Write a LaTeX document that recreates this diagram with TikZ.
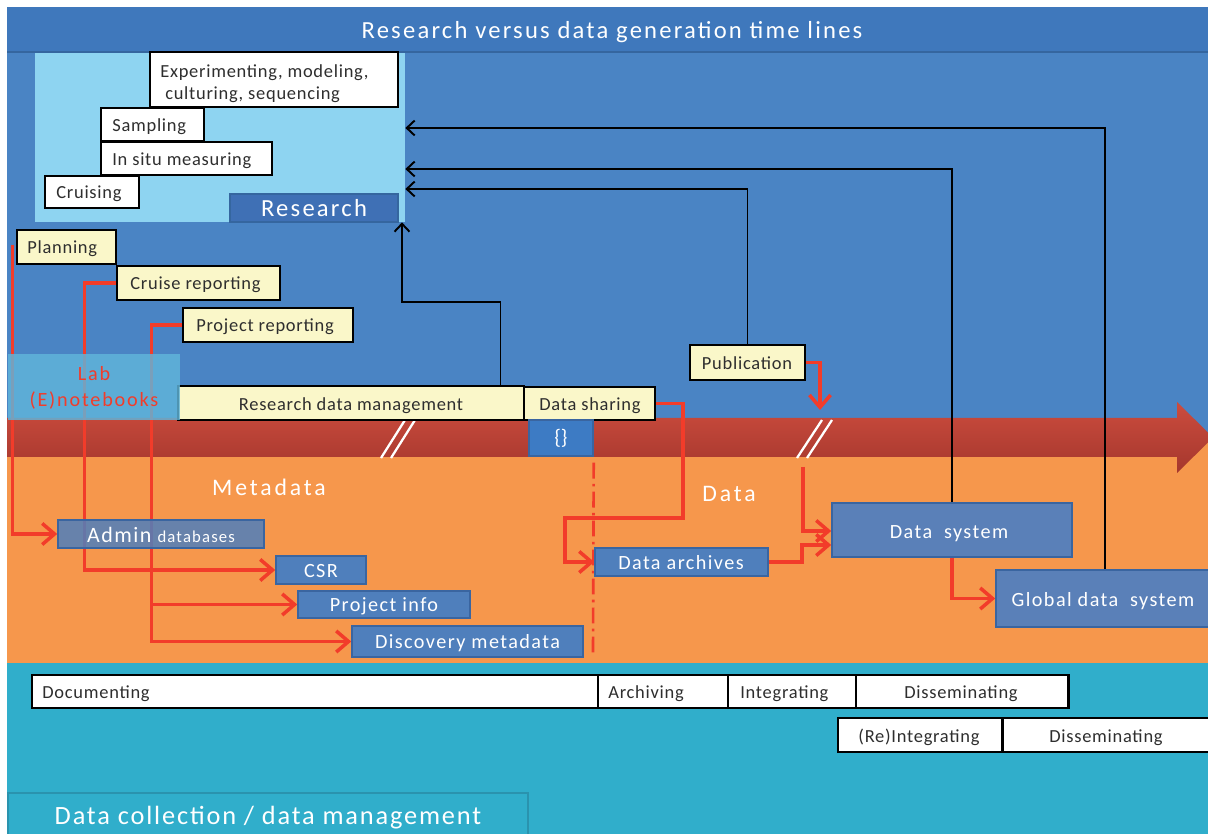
\documentclass[tikz,border=0pt]{standalone}
\usepackage{fontspec}
\setmainfont{Carlito}
\newfontfamily\fy[LetterSpace=4]{Carlito}
\newfontfamily\fb[LetterSpace=7]{Carlito}
\newfontfamily\ft[LetterSpace=9]{Carlito}
\newfontfamily\fm[LetterSpace=12]{Carlito}
\usetikzlibrary{arrows.meta,fit,calc}
\definecolor{bgblue}{HTML}{4A84C4}
\definecolor{titleblue}{HTML}{3F78BC}
\definecolor{titleline}{HTML}{35669F}
\definecolor{ltblue}{HTML}{8ED4F1}
\definecolor{resblue}{HTML}{3F70B5}
\definecolor{ylw}{HTML}{FAF7C9}
\definecolor{orng}{HTML}{F6974C}
\definecolor{tealc}{HTML}{30AECB}
\definecolor{tealdark}{HTML}{2A93AE}
\definecolor{mblue}{HTML}{4F7FBC}
\definecolor{sblue}{HTML}{5A80B8}
\definecolor{mborder}{HTML}{3A65A0}
\definecolor{lred}{HTML}{F23C2A}
\definecolor{arrtop}{HTML}{CC4C3E}
\definecolor{arrbot}{HTML}{A5372D}
\definecolor{txt}{HTML}{2E2E2E}
\definecolor{labblue}{HTML}{60B5DA}
\definecolor{curly}{HTML}{3D7BC4}
\newcommand{\fsz}[2]{\fontsize{#1}{#2}\selectfont}
\pgfdeclarelayer{bg}
\pgfdeclarelayer{mid}
\pgfsetlayers{bg,mid,main}
\tikzset{
  wbox/.style={draw=black, line width=1.7pt, fill=white, inner sep=0pt},
  ybox/.style={draw=black, line width=1.7pt, fill=ylw, inner sep=0pt},
  mbox/.style={draw=mborder, line width=0.9pt, fill=mblue, inner sep=0pt},
  sbox/.style={draw=mborder, line width=0.9pt, fill=sblue, inner sep=0pt},
  ltxt/.style={anchor=mid west, yshift=-1.2pt, text=txt, inner sep=0pt, font={\fy\fsz{10.5}{12.5}}},
  ctxt/.style={anchor=mid, yshift=-1.2pt, text=txt, inner sep=0pt, font={\fy\fsz{10.5}{12.5}}},
  btxt/.style={anchor=mid, yshift=-1.8pt, text=white, inner sep=0pt, font={\fb\fsz{11.5}{13.5}}},
  redl/.style={draw=lred, line width=2pt},
  reda/.style={redl, -{Straight Barb[length=7pt,width=12pt]}},
  blk/.style={draw=black, line width=1.1pt, -{Straight Barb[length=4.5pt,width=8.5pt]}},
  wtxt/.style={anchor=mid, yshift=-2.4pt, text=white, inner sep=0pt},
}
\begin{document}
\begin{tikzpicture}[x=0.02cm,y=-0.02cm]
\useasboundingbox (0,0) rectangle (1208,834);
\begin{pgfonlayer}{bg}
\fill[white] (0,0) rectangle (1208,834);
\fill[bgblue] (7,7) rectangle (1208,440);
\fill[orng] (7,440) rectangle (1208,663);
\fill[tealc] (7,663) rectangle (1208,834);
\fill[titleblue] (7,7) rectangle (1208,52);
\draw[titleline, line width=0.8pt] (7,52) -- (1208,52);
\shade[top color=arrtop, bottom color=arrbot] (7,418) -- (1177,418) -- (1177,402) -- (1213,437.5) -- (1177,473) -- (1177,457) -- (7,457) -- cycle;
\draw[white, line width=1.3pt] (381,458) -- (405,420) (391,458) -- (415,420);
\draw[white, line width=1.3pt] (797,458) -- (822,420) (807,458) -- (832,420);
\end{pgfonlayer}

\node[wtxt, font={\ft\fsz{14}{16}}] (title) at (612,30) {Research versus data generation time lines};

% research block
\node[fit={(35,53)(405,222)}, inner sep=0pt, fill=ltblue] (res) {};
\node[fit={(230,194)(398,222)}, inner sep=0pt, fill=resblue, draw=titleline, line width=0.8pt] (reslab) {};
\node[wtxt, font={\ft\fsz{14}{16}}] (reslabtxt) at (314,208) {Research};
\node[wbox, fit={(150,52)(398,107)}] (exp) {};
\node[ltxt, anchor=north west, yshift=0pt, align=left] (exptxt) at (160,62) {Experimenting, modeling,\\\ culturing, sequencing};
\node[wbox, fit={(101,108)(204,141)}] (samp) {};
\node[ltxt] (samptxt) at (112,125) {Sampling};
\node[wbox, fit={(101,142)(272,175)}] (insitu) {};
\node[ltxt] (insitutxt) at (112,159) {In situ measuring};
\node[wbox, fit={(45,176)(139,208)}] (cruis) {};
\node[ltxt] (cruistxt) at (56,192) {Cruising};

% yellow boxes
\node[ybox, fit={(17,230)(116,264)}] (plan) {};
\node[ltxt] (plantxt) at (27,247) {Planning};
\node[ybox, fit={(117,266)(280,300)}] (cr) {};
\node[ltxt] (crtxt) at (130,283) {Cruise reporting};
\node[ybox, fit={(183,308)(353,342)}] (pr) {};
\node[ltxt] (prtxt) at (196,325) {Project reporting};
\node[ybox, fit={(178,386)(524,420)}] (rdm) {};
\node[ctxt] (rdmtxt) at (351,404) {Research data management};
\node[ybox, fit={(524,387)(655,420)}] (dsh) {};
\node[ctxt] (dshtxt) at (590,404) {Data sharing};
\node[ybox, fit={(690,345)(805,380)}] (pub) {};
\node[ctxt] (pubtxt) at (747,363) {Publication};
\node[fit={(529,420)(593,456)}, inner sep=0pt, fill=curly, draw=mborder, line width=0.8pt] (cur) {};
\node[wtxt, yshift=1pt, font={\fsz{12}{14}}] (curtxt) at (cur.center) {\{\}};

% orange region labels
\node[wtxt, font={\fm\fsz{13.5}{15}}] (meta) at (269,487) {Metadata};
\node[wtxt, font={\fm\fsz{13.5}{15}}] (datal) at (729,493) {Data};

% blue boxes
\node[mbox, fit={(58,520)(264,548)}, fill opacity=0.85] (admin) {};
\node[btxt] (admintxt) at (161,535) {{\fsz{12.5}{14}Admin} {\fsz{9.5}{11}databases}};
\node[mbox, fit={(276,556)(366,584)}] (csr) {};
\node[btxt] (csrtxt) at (csr.center) {CSR};
\node[mbox, fit={(298,591)(470,618)}] (pinfo) {};
\node[btxt] (pinfotxt) at (pinfo.center) {Project info};
\node[mbox, fit={(352,626)(583,657)}] (disc) {};
\node[btxt] (disctxt) at (disc.center) {Discovery metadata};
\node[mbox, fit={(595,548)(768,576)}] (darch) {};
\node[btxt] (darchtxt) at (681,562) {Data archives};
\node[sbox, fit={(832,503)(1072,557)}] (dsys) {};
\node[btxt] (dsystxt) at (949,531) {Data\ \ system};
\node[sbox, fit={(996,570)(1214,627)}] (gds) {};
\node[btxt] (gdstxt) at (1103,599) {Global data\ \ system};

% bottom boxes
\node[wbox, fit={(32,675)(598,708)}] (doc) {};
\node[ltxt] (doctxt) at (42,692) {Documenting};
\node[wbox, fit={(598,675)(728,708)}] (arch) {};
\node[ltxt] (archtxt) at (608,692) {Archiving};
\node[wbox, fit={(728,675)(856,708)}] (integ) {};
\node[ltxt] (integtxt) at (740,692) {Integrating};
\node[wbox, fit={(856,675)(1068,708)}] (diss) {};
\node[ctxt] (disstxt) at (961,692) {Disseminating};
\node[wbox, fit={(838,718)(1002,752)}] (reint) {};
\node[ctxt] (reinttxt) at (919,736) {(Re)Integrating};
\node[wbox, fit={(1002,718)(1215,752)}] (diss2) {};
\node[ctxt] (diss2txt) at (1106,736) {Disseminating};
\node[fit={(8,793)(528,840)}, inner sep=0pt, fill=tealc, draw=tealdark, line width=1pt] (dcol) {};
\node[wtxt, font={\fb\fsz{15}{17}}] (dcoltxt) at (268,816) {Data collection / data management};

% coordinates
\coordinate (k1) at (402,302);
\coordinate (k2) at (0,189);
\coordinate (k3) at (0,169);
\coordinate (k4) at (0,128);
\coordinate (r1) at (683,518);
\coordinate (r2) at (565,518);
\coordinate (r3) at (802,545);
\coordinate (p1) at (820,410);
\coordinate (p2) at (803,467);
\coordinate (p3) at (0,531);
\coordinate (dd) at (593,657);

% black connectors
\draw[blk] ($(rdm.north west)+(324,0)$) |- (k1) -- (k1 |- res.south);
\draw[blk] (pub.north) |- (res.east |- k2);
\draw[blk] (dsys.north) |- (res.east |- k3);
\draw[blk] (gds.north) |- (res.east |- k4);

% red connectors
\begin{pgfonlayer}{mid}
\draw[reda] ($(plan.west)+(-3,-2)$) |- (admin.west);
\draw[reda] (cr.west) -- ++(-31,0) |- (csr.west);
\draw[reda] (pr.west) -- ++(-30,0) |- (pinfo.west);
\draw[reda] (pr.west) ++(-30,0) |- (disc.west);
\draw[reda] (dsh.east) -| (r1) -- (r2) |- (darch.west);
\draw[reda] (darch.east) -| (r3) -- (dsys.west |- r3);
\draw[reda] (pub.east) -| (p1);
\draw[reda] (p2) |- (dsys.west |- p3);
\draw[reda] (dsys.south) |- (gds.west);
\draw[lred, line width=1.5pt, dash pattern=on 9pt off 3pt on 1.5pt off 3pt] ($(cur.south east)+(0,6)$) -- (dd);
\end{pgfonlayer}

% lab notebooks overlay
\node[fit={(8,354)(180,420)}, inner sep=0pt, fill=labblue, fill opacity=0.82] (lab) {};
\node[anchor=center, inner sep=0pt, text=lred, align=center, font={\ft\fsz{11.5}{14.7}}] (labtxt) at (94,388) {Lab\\(E)notebooks};
\end{tikzpicture}
\end{document}
